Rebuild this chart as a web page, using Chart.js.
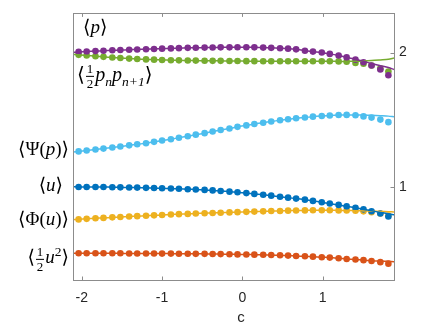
<!DOCTYPE html>
<html><head><meta charset="utf-8">
<script src="https://cdn.jsdelivr.net/npm/chart.js@4/dist/chart.umd.min.js"></script>
<style>
html,body{margin:0;padding:0;background:#fff;}
#wrap{position:relative;width:436px;height:327px;}
canvas{position:absolute;left:0;top:0;}
.lab{position:absolute;font-family:"Liberation Serif","DejaVu Serif",serif;font-size:19px;color:#000;white-space:nowrap;line-height:1;transform:translateY(-50%);}
.r{text-align:right;}
.i{font-style:italic;}
.fr{display:inline-flex;flex-direction:column;align-items:center;font-size:13px;vertical-align:middle;margin:0 1px;line-height:1.05;}
.fr span:first-child{border-bottom:0.8px solid #000;padding:0 1px;}
sub,sup{font-size:13.5px;line-height:0;}
.big{font-size:20px;}
.xl{position:absolute;font-family:"Liberation Sans",sans-serif;font-size:15px;color:#262626;left:241px;top:316px;transform:translate(-50%,-50%);}
</style></head>
<body><div id="wrap"><canvas id="c" width="436" height="327"></canvas>
<div class="lab" style="left:83px;top:26px;">⟨<span class="i">p</span>⟩</div>
<div class="lab big" style="left:77px;top:76px;">⟨<span class="fr"><span>1</span><span>2</span></span><span class="i">p<sub>n</sub>p<sub>n+1</sub></span>⟩</div>
<div class="lab r" style="right:367px;top:148px;">⟨Ψ(<span class="i">p</span>)⟩</div>
<div class="lab r" style="right:373px;top:184px;">⟨<span class="i">u</span>⟩</div>
<div class="lab r" style="right:367px;top:218px;">⟨Φ(<span class="i">u</span>)⟩</div>
<div class="lab r" style="right:367px;top:259px;">⟨<span class="fr"><span>1</span><span>2</span></span><span class="i">u</span><sup>2</sup>⟩</div>
<div class="xl">c</div>
</div>
<script>
const c = [-2.04,-1.94,-1.83,-1.73,-1.62,-1.52,-1.41,-1.31,-1.2,-1.1,-1.0,-0.89,-0.79,-0.68,-0.58,-0.47,-0.37,-0.27,-0.16,-0.06,0.05,0.15,0.26,0.36,0.47,0.57,0.67,0.78,0.88,0.99,1.09,1.2,1.3,1.41,1.51,1.61,1.72,1.82];
const cLine = [-2.11].concat(c, [1.89]);
const xTicks = [-2,-1,0,1];
const yTicks = [1,2];

const pDots = [2.005,2.008,2.011,2.014,2.017,2.019,2.021,2.023,2.025,2.027,2.029,2.031,2.033,2.035,2.036,2.037,2.038,2.039,2.039,2.040,2.040,2.039,2.037,2.035,2.032,2.029,2.024,2.014,2.007,2.000,1.990,1.978,1.964,1.947,1.928,1.903,1.874,1.831];
const pLine = [2.002,2.005,2.008,2.011,2.014,2.017,2.019,2.021,2.023,2.025,2.027,2.029,2.031,2.033,2.035,2.036,2.037,2.038,2.039,2.039,2.040,2.040,2.039,2.037,2.035,2.032,2.029,2.024,2.014,2.007,2.000,1.990,1.978,1.964,1.950,1.935,1.918,1.902,1.888,1.874];

const gDots = [1.983,1.978,1.973,1.968,1.963,1.959,1.955,1.952,1.949,1.947,1.945,1.943,1.942,1.941,1.940,1.939,1.938,1.938,1.937,1.937,1.936,1.936,1.935,1.935,1.935,1.935,1.935,1.935,1.935,1.935,1.935,1.934,1.932,1.923,1.916,1.903,1.882,1.858];
const gLine = [1.988,1.983,1.978,1.973,1.968,1.963,1.959,1.955,1.952,1.949,1.947,1.945,1.943,1.942,1.941,1.940,1.939,1.938,1.938,1.937,1.937,1.936,1.936,1.935,1.935,1.935,1.935,1.935,1.935,1.935,1.935,1.935,1.934,1.934,1.935,1.937,1.940,1.945,1.950,1.959];

const psiDots = [1.263,1.270,1.277,1.284,1.292,1.300,1.308,1.316,1.324,1.334,1.344,1.354,1.365,1.376,1.388,1.399,1.411,1.423,1.434,1.446,1.457,1.467,1.477,1.486,1.495,1.503,1.510,1.516,1.522,1.527,1.531,1.534,1.535,1.532,1.524,1.515,1.500,1.481];
const psiLine = [1.258,1.263,1.270,1.277,1.284,1.292,1.300,1.308,1.316,1.324,1.334,1.344,1.354,1.365,1.376,1.388,1.399,1.411,1.423,1.434,1.446,1.457,1.467,1.477,1.486,1.495,1.503,1.510,1.516,1.522,1.527,1.531,1.534,1.535,1.535,1.534,1.532,1.529,1.526,1.522];

const uDots = [0.998,0.998,0.997,0.997,0.996,0.995,0.994,0.993,0.991,0.990,0.988,0.986,0.984,0.981,0.979,0.976,0.972,0.968,0.963,0.958,0.952,0.946,0.940,0.933,0.925,0.918,0.911,0.903,0.894,0.884,0.874,0.864,0.853,0.842,0.831,0.817,0.800,0.777];
const uLine = [0.999,0.998,0.998,0.997,0.997,0.996,0.995,0.994,0.993,0.991,0.990,0.988,0.986,0.984,0.981,0.979,0.976,0.972,0.968,0.963,0.958,0.952,0.946,0.940,0.933,0.925,0.918,0.911,0.903,0.894,0.884,0.874,0.864,0.853,0.842,0.831,0.820,0.808,0.798,0.790];

const phiDots = [0.756,0.760,0.764,0.767,0.771,0.774,0.777,0.780,0.783,0.786,0.789,0.792,0.795,0.797,0.800,0.802,0.804,0.806,0.808,0.810,0.812,0.814,0.816,0.818,0.819,0.821,0.822,0.823,0.824,0.824,0.824,0.823,0.822,0.820,0.816,0.810,0.800,0.785];
const phiLine = [0.754,0.756,0.760,0.764,0.767,0.771,0.774,0.777,0.780,0.783,0.786,0.789,0.792,0.795,0.797,0.800,0.802,0.804,0.806,0.808,0.810,0.812,0.814,0.816,0.818,0.819,0.821,0.822,0.823,0.824,0.824,0.824,0.823,0.822,0.821,0.819,0.817,0.815,0.813,0.811];

const hDots = [0.503,0.503,0.503,0.503,0.503,0.503,0.502,0.502,0.502,0.502,0.501,0.501,0.500,0.500,0.499,0.499,0.498,0.497,0.496,0.495,0.494,0.493,0.492,0.490,0.488,0.486,0.483,0.481,0.478,0.474,0.471,0.466,0.461,0.457,0.452,0.446,0.437,0.426];
const hLine = [0.503,0.503,0.503,0.503,0.503,0.503,0.503,0.502,0.502,0.502,0.502,0.501,0.501,0.500,0.500,0.499,0.499,0.498,0.497,0.496,0.495,0.494,0.493,0.492,0.490,0.488,0.486,0.483,0.481,0.478,0.474,0.471,0.466,0.461,0.457,0.452,0.448,0.445,0.443,0.441];

const series = [
  {dots:pDots, line:pLine, color:'#7E2F8E'},
  {dots:gDots, line:gLine, color:'#77AC30'},
  {dots:psiDots, line:psiLine, color:'#4DBEEE'},
  {dots:uDots, line:uLine, color:'#0072BD'},
  {dots:phiDots, line:phiLine, color:'#EDB120'},
  {dots:hDots, line:hLine, color:'#D95319'}
];

const datasets = [];
series.forEach(s => {
  datasets.push({data: s.dots.map((v,i)=>({x:c[i], y:v})), showLine:false, pointRadius:3.3, pointBackgroundColor:s.color, pointBorderWidth:0, borderColor:s.color, order:2});
  datasets.push({data: s.line.map((v,i)=>({x:cLine[i], y:v})), showLine:true, pointRadius:0, borderColor:s.color, borderWidth:1.5, tension:0.3, order:1});
});

const boxPlugin = {
  id:'box',
  afterDraw(chart){
    const {ctx, chartArea:a, scales} = chart;
    ctx.save();
    ctx.strokeStyle = '#8c8c8c';
    ctx.lineWidth = 1;
    ctx.strokeRect(Math.round(a.left)+0.5, Math.round(a.top)+0.5, Math.round(a.right-a.left), Math.round(a.bottom-a.top));
    ctx.beginPath();
    xTicks.forEach(v => {
      const px = Math.round(scales.x.getPixelForValue(v))+0.5;
      ctx.moveTo(px, a.bottom); ctx.lineTo(px, a.bottom-3.5);
      ctx.moveTo(px, a.top); ctx.lineTo(px, a.top+3.5);
    });
    yTicks.forEach(v => {
      const py = Math.round(scales.y.getPixelForValue(v))+0.5;
      ctx.moveTo(a.right, py); ctx.lineTo(a.right-3.5, py);
    });
    ctx.stroke();
    ctx.restore();
  }
};

new Chart(document.getElementById('c'), {
  type:'scatter',
  data:{datasets},
  options:{
    responsive:false, animation:false,
    layout:{padding:{left:73, top:6, right:0, bottom:0}},
    plugins:{legend:{display:false}, tooltip:{enabled:false}},
    scales:{
      x:{type:'linear', min:-2.11, max:1.89,
        grid:{display:false, drawTicks:false, tickLength:0}, border:{display:false},
        afterBuildTicks: s => { s.ticks = xTicks.map(v=>({value:v})); },
        afterFit: s => { s.height = 47; },
        ticks:{padding:10, color:'#262626', font:{family:'Liberation Sans', size:14}, callback:v=>String(v)}
      },
      y:{type:'linear', position:'right', min:0.304, max:2.292,
        grid:{display:false, drawTicks:false, tickLength:0}, border:{display:false},
        afterBuildTicks: s => { s.ticks = yTicks.map(v=>({value:v})); },
        afterFit: s => { s.width = 42; },
        ticks:{padding:5, color:'#262626', font:{family:'Liberation Sans', size:14}, callback:v=>String(v)}
      }
    }
  },
  plugins:[boxPlugin]
});
</script></body></html>
